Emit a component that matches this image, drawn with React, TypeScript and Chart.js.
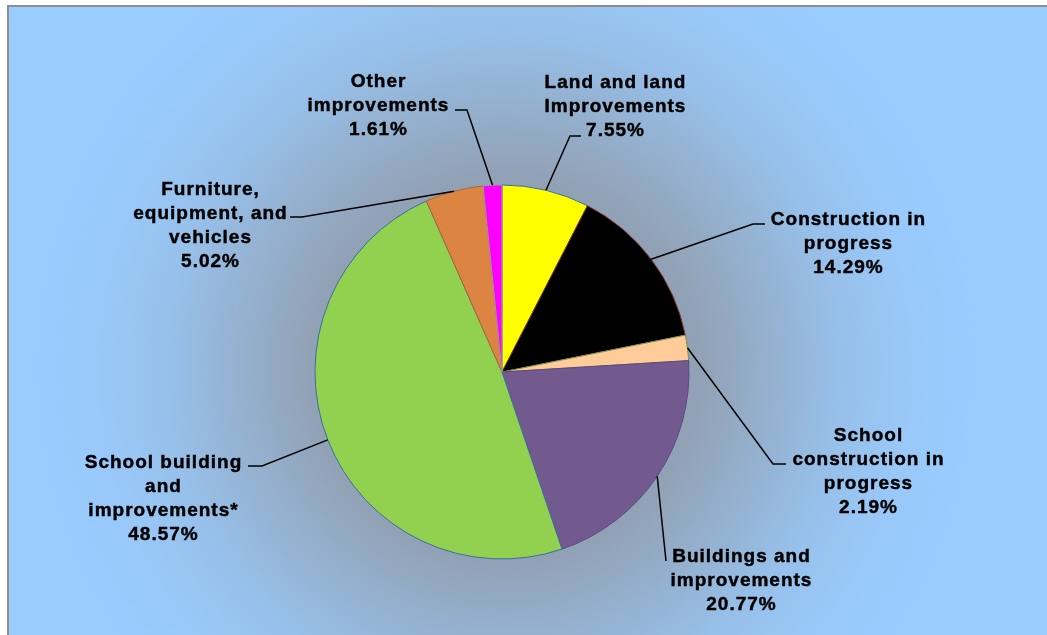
import React, { useEffect, useRef } from "react";
import { Chart, registerables } from "chart.js";

Chart.register(...registerables);

const categories = [
  "Land and land\nImprovements",
  "Construction in\nprogress",
  "School\nconstruction in\nprogress",
  "Buildings and\nimprovements",
  "School building\nand\nimprovements*",
  "Furniture,\nequipment, and\nvehicles",
  "Other\nimprovements",
];
const values = [7.55, 14.29, 2.19, 20.77, 48.57, 5.02, 1.61];
const sliceColors = ["#FFFF00", "#000000", "#FFCC99", "#725A8F", "#92D050", "#DC8442", "#FF00FF"];
const sliceBorders = ["#3A6EA5", "#8B3A3A", "#77933C", "#5C4A85", "#3A6EA5", "#B0682F", "#9A9A9A"];

// label layout: text centre x, first baseline y, leader start, optional elbow
const labelLayout = [
  { x: 615, y: 88, start: [581, 136], elbow: [570, 136] },
  { x: 848, y: 225, start: [765, 224], elbow: [753, 224] },
  { x: 868, y: 441, start: [786, 464], elbow: [773, 464] },
  { x: 741, y: 562, start: [666, 561], elbow: null },
  { x: 163, y: 468, start: [248, 466], elbow: [262, 466] },
  { x: 210, y: 195, start: [290, 217], elbow: [302, 217] },
  { x: 378, y: 87, start: [455, 110], elbow: [467, 110] },
];

const bgPlugin = {
  id: "bgPlugin",
  beforeDraw(chart: any) {
    const ctx = chart.ctx;
    const w = chart.width;
    const h = chart.height;
    ctx.save();
    ctx.fillStyle = "#ffffff";
    ctx.fillRect(0, 0, w, h);
    const cx = 505;
    const cy = 368;
    const g = ctx.createRadialGradient(cx, cy, 0, cx, cy, 470);
    g.addColorStop(0, "rgb(142,152,168)");
    g.addColorStop(0.42, "rgb(146,162,182)");
    g.addColorStop(0.56, "rgb(148,176,206)");
    g.addColorStop(0.72, "rgb(151,192,234)");
    g.addColorStop(0.88, "rgb(153,201,250)");
    g.addColorStop(1, "rgb(153,204,255)");
    ctx.fillStyle = g;
    ctx.fillRect(8, 6, w, h);
    ctx.strokeStyle = "#8E8E8E";
    ctx.lineWidth = 2;
    ctx.strokeRect(8, 6, w + 20, h + 20);
    ctx.restore();
  },
};

const labelPlugin = {
  id: "labelPlugin",
  afterDatasetsDraw(chart: any) {
    const ctx = chart.ctx;
    const meta = chart.getDatasetMeta(0);
    ctx.save();
    meta.data.forEach((arc: any, i: number) => {
      const p = arc.getProps(["x", "y", "startAngle", "endAngle", "outerRadius"], true);
      const mid = (p.startAngle + p.endAngle) / 2;
      const ax = p.x + p.outerRadius * Math.cos(mid);
      const ay = p.y + p.outerRadius * Math.sin(mid);
      const L = labelLayout[i];
      ctx.strokeStyle = "#000000";
      ctx.lineWidth = 1.5;
      ctx.beginPath();
      ctx.moveTo(L.start[0], L.start[1]);
      if (L.elbow) ctx.lineTo(L.elbow[0], L.elbow[1]);
      ctx.lineTo(ax, ay);
      ctx.stroke();

      const lines = categories[i].split("\n").concat([values[i].toFixed(2) + "%"]);
      ctx.fillStyle = "#000000";
      ctx.strokeStyle = "#000000";
      ctx.lineWidth = 0.45;
      ctx.font = 'bold 19px "Liberation Sans", Arial, sans-serif';
      (ctx as any).letterSpacing = "1px";
      ctx.textAlign = "center";
      ctx.textBaseline = "alphabetic";
      lines.forEach((t: string, k: number) => {
        ctx.fillText(t, L.x + 0.5, L.y + k * 24);
        ctx.strokeText(t, L.x + 0.5, L.y + k * 24);
      });
    });
    ctx.restore();
  },
};

export default function App() {
  const ref = useRef<HTMLCanvasElement | null>(null);
  useEffect(() => {
    if (!ref.current) return;
    const chart = new Chart(ref.current, {
      type: "pie",
      data: {
        labels: categories.map((c) => c.replace(/\n/g, " ")),
        datasets: [
          {
            data: values,
            backgroundColor: sliceColors,
            borderColor: sliceBorders,
            borderWidth: 1,
          },
        ],
      },
      options: {
        animation: false,
        responsive: true,
        maintainAspectRatio: false,
        radius: 187,
        layout: { padding: { left: 200, right: 243, top: 185, bottom: 76 } },
        plugins: {
          legend: { display: false },
          tooltip: { enabled: false },
        },
      } as any,
      plugins: [bgPlugin, labelPlugin],
    });
    return () => chart.destroy();
  }, []);
  return (
    <div style={{ position: "absolute", left: 0, top: 0, width: 1047, height: 635 }}>
      <canvas ref={ref} />
    </div>
  );
}
